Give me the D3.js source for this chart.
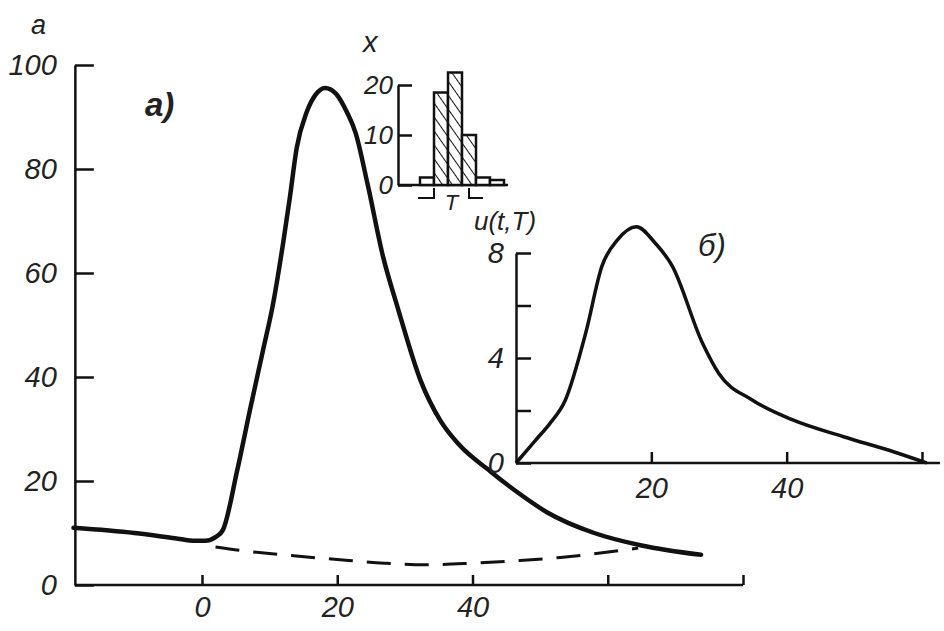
<!DOCTYPE html>
<meta charset="utf-8">
<head>
    <script src="https://d3js.org/d3.v7.min.js"></script>
    <style>
    body { margin: 0; background: #fff; }
    .lbl {
        font-family: 'Liberation Sans', Arial, sans-serif;
        font-style: italic;
        fill: #222;
    }
    .axis path, .axis line { stroke: #111; stroke-width: 2.5px; }
    .axis text {
        font-family: 'Liberation Sans', Arial, sans-serif;
        font-style: italic;
        font-size: 29px;
        fill: #222;
    }
    </style>
</head>
<body>
<svg id="chart"></svg>
<script>
// main panel a): solid curve
var mainT = [-19, -10, -4, -1, 0.5, 2, 3.1, 5.2, 7.1, 9, 10.5, 12, 13, 14, 15.5, 16.8, 18.2, 19.8, 21.4, 22.7, 24.5, 26.8, 28.9, 32.3, 35.3, 38, 42.7, 47, 51, 58, 65, 73.8];
var mainA = [11, 10, 9, 8.5, 8.5, 9.2, 10.6, 22, 33.7, 45, 54, 65.8, 74.6, 84, 91, 94.3, 95.6, 94.5, 91, 87, 77, 63, 53.5, 39.4, 31.5, 27, 21.8, 17.5, 14, 10, 7.6, 5.8];
// main panel a): dashed curve
var dashT = [2, 6, 12, 20, 27, 33, 40, 47, 53, 58, 64.5];
var dashA = [7.3, 6.6, 5.8, 4.9, 4.2, 3.9, 4.2, 4.7, 5.3, 6.0, 7.1];
var mainYTicks = [0, 20, 40, 60, 80, 100];
var mainXTicks = [0, 20, 40, 60, 80];
var mainXLabels = ["0", "20", "40", "", ""];

// panel б): u(t,T)
var bT = [0, 3, 5, 7.3, 10.3, 12.7, 15, 17.8, 20.5, 23.1, 27.5, 30, 34.9, 40.9, 48.4, 55.9, 60.7];
var bU = [0, 0.9, 1.5, 2.4, 4.95, 7.5, 8.5, 9.0, 8.4, 7.5, 4.6, 3.4, 2.4, 1.64, 1.0, 0.42, 0];
var bYTicks = [0, 2, 4, 6, 8];
var bYLabels = ["0", "", "4", "", "8"];
var bXTicks = [20, 40, 60];
var bXLabels = ["20", "40", ""];

// histogram inset x
var histCounts = [1.5, 18.5, 22.5, 10, 1.5, 1];
var histYTicks = [0, 10, 20];

var W = 944, H = 631;
var svg = d3.select("#chart").attr("width", W).attr("height", H);

// hatch pattern
var pat = svg.append("defs").append("pattern")
    .attr("id", "hatch")
    .attr("patternUnits", "userSpaceOnUse")
    .attr("width", 8).attr("height", 8)
    .attr("patternTransform", "rotate(-35)");
pat.append("rect").attr("width", 8).attr("height", 8).attr("fill", "#fff");
pat.append("line").attr("x1", 0).attr("y1", 0).attr("x2", 0).attr("y2", 8)
    .attr("stroke", "#111").attr("stroke-width", 2);

// ---------- panel a ----------
var x = d3.scaleLinear().domain([0, 80]).range([202, 743]);
var y = d3.scaleLinear().domain([0, 100]).range([585, 65]);

svg.append("g")
    .attr("class", "axis")
    .attr("transform", "translate(" + x(-18.8) + ",0)")
    .call(d3.axisLeft(y).tickValues(mainYTicks).tickSizeInner(-19).tickSizeOuter(0).tickPadding(18));

var xa = svg.append("g")
    .attr("class", "axis")
    .attr("transform", "translate(0," + y(0) + ")")
    .call(d3.axisBottom(x).tickValues(mainXTicks).tickSizeInner(-10).tickSizeOuter(0).tickPadding(11)
        .tickFormat(function(d, i) { return mainXLabels[i]; }));
// stretch baseline to the left end of the y axis
xa.select(".domain").attr("d", "M" + x(-18.8) + ",0H" + x(80));

var line = d3.line()
    .x(function(d) { return x(d[0]); })
    .y(function(d) { return y(d[1]); })
    .curve(d3.curveMonotoneX);

svg.append("path")
    .datum(d3.zip(mainT, mainA))
    .attr("fill", "none")
    .attr("stroke", "#111")
    .attr("stroke-width", 4.5)
    .attr("stroke-linecap", "round")
    .attr("d", line);

svg.append("path")
    .datum(d3.zip(dashT, dashA))
    .attr("fill", "none")
    .attr("stroke", "#111")
    .attr("stroke-width", 3)
    .attr("stroke-dasharray", "24,14")
    .attr("d", line);

svg.append("text").attr("class", "lbl")
    .attr("x", 31).attr("y", 34).style("font-size", "27px").text("a");
svg.append("text").attr("class", "lbl")
    .attr("x", 145).attr("y", 116).style("font-size", "33px").style("font-weight", "bold").text("а)");

// ---------- panel б ----------
var xb = d3.scaleLinear().domain([0, 60]).range([516, 922]);
var yb = d3.scaleLinear().domain([0, 8]).range([463, 253]);

svg.append("g")
    .attr("class", "axis")
    .attr("transform", "translate(" + xb(0) + ",0)")
    .call(d3.axisLeft(yb).tickValues(bYTicks).tickSizeInner(-15).tickSizeOuter(0).tickPadding(12)
        .tickFormat(function(d, i) { return bYLabels[i]; }));

var xba = svg.append("g")
    .attr("class", "axis")
    .attr("transform", "translate(0," + yb(0) + ")")
    .call(d3.axisBottom(xb).tickValues(bXTicks).tickSizeInner(-11).tickSizeOuter(0).tickPadding(14)
        .tickFormat(function(d, i) { return bXLabels[i]; }));
xba.select(".domain").attr("d", "M" + xb(0) + ",0H" + (xb(60) + 18));

var lineB = d3.line()
    .x(function(d) { return xb(d[0]); })
    .y(function(d) { return yb(d[1]); })
    .curve(d3.curveMonotoneX);

svg.append("path")
    .datum(d3.zip(bT, bU))
    .attr("fill", "none")
    .attr("stroke", "#111")
    .attr("stroke-width", 3.5)
    .attr("d", lineB);

svg.append("text").attr("class", "lbl")
    .attr("x", 474).attr("y", 230).style("font-size", "26px").text("u(t,T)");
svg.append("text").attr("class", "lbl")
    .attr("x", 698).attr("y", 256).style("font-size", "31px").text("б)");

// ---------- histogram inset ----------
var xh = d3.scaleBand().domain(d3.range(histCounts.length)).range([420, 504]).paddingInner(0);
var yh = d3.scaleLinear().domain([0, 20]).range([185, 85]);

svg.append("g")
    .attr("class", "axis")
    .attr("transform", "translate(398,0)")
    .call(d3.axisLeft(yh).tickValues(histYTicks).tickSizeInner(-14).tickSizeOuter(0).tickPadding(5))
    .selectAll("text").style("font-size", "26px");

svg.append("line")
    .attr("x1", 398).attr("x2", xh(histCounts.length - 1) + xh.bandwidth() + 4)
    .attr("y1", yh(0)).attr("y2", yh(0))
    .attr("stroke", "#111").attr("stroke-width", 2.5);

svg.selectAll(".bar")
    .data(histCounts)
    .enter().append("rect")
    .attr("class", "bar")
    .attr("x", function(d, i) { return xh(i); })
    .attr("y", function(d) { return yh(d); })
    .attr("width", xh.bandwidth())
    .attr("height", function(d) { return yh(0) - yh(d); })
    .attr("fill", function(d) { return d > 5 ? "url(#hatch)" : "#fff"; })
    .attr("stroke", "#111")
    .attr("stroke-width", 2.5);

svg.append("text").attr("class", "lbl")
    .attr("x", 363).attr("y", 52).style("font-size", "29px").text("x");

// T bracket under bars 1..3
var tx0 = xh(1), tx1 = xh(3) + xh.bandwidth() / 2, ty = 198;
svg.append("path")
    .attr("d", "M" + (tx0 - 16) + "," + ty + "H" + tx0 + "V" + (ty - 10) +
               "M" + tx1 + "," + (ty - 10) + "V" + ty + "H" + (tx1 + 14))
    .attr("fill", "none").attr("stroke", "#111").attr("stroke-width", 2);
svg.append("text").attr("class", "lbl")
    .attr("x", (tx0 + tx1) / 2).attr("y", 210).attr("text-anchor", "middle")
    .style("font-size", "22px").text("T");
</script>
</body>
